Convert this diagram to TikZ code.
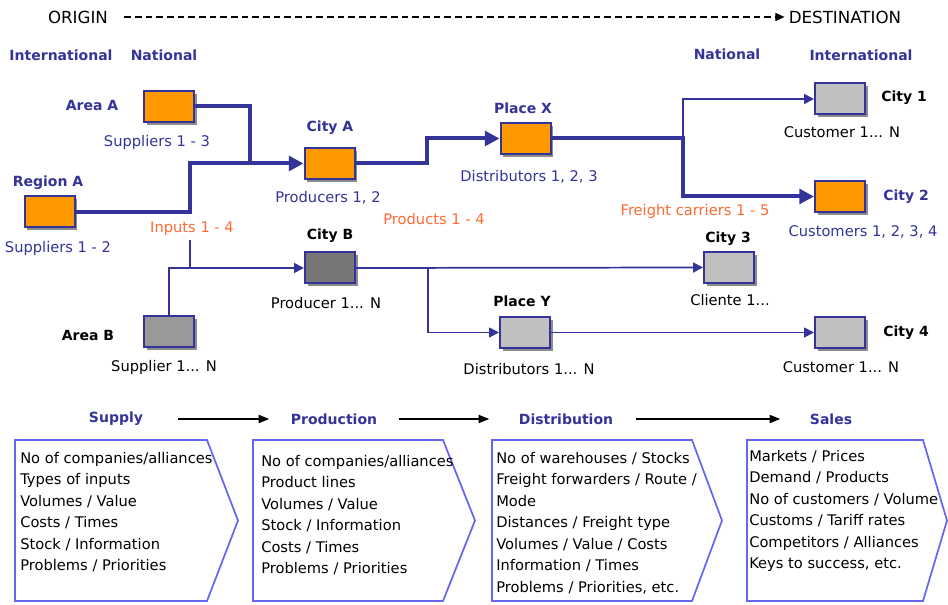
\documentclass[tikz,border=0pt]{standalone}
\usepackage{fontspec}
\setmainfont{DejaVu Sans}
\usepackage{xcolor}
\usepackage{tikz}
\usetikzlibrary{arrows.meta,shadows}
\definecolor{navy}{HTML}{333399}
\definecolor{boxorange}{HTML}{FF9900}
\definecolor{txtorange}{HTML}{FF6A33}
\definecolor{chevblue}{HTML}{6666F0}
\definecolor{lightgrey}{HTML}{C0C0C0}
\definecolor{midgrey}{HTML}{999999}
\definecolor{darkgrey}{HTML}{777777}

\begin{document}
\begin{tikzpicture}[x=0.75pt,y=-0.75pt,
site/.style={draw=navy,line width=1.5pt,minimum width=37.5pt,minimum height=23.25pt,inner sep=0pt,
  drop shadow={shadow xshift=2pt,shadow yshift=-2pt,fill=black,opacity=.45}},
tag/.style={inner sep=0pt,font=\fontsize{10.5pt}{12pt}\selectfont\bfseries},
lbl/.style={inner sep=0pt,font=\fontsize{11pt}{13pt}\selectfont},
list/.style={anchor=north west,align=left,inner sep=0pt,font=\fontsize{11pt}{16.1pt}\selectfont},
heavy/.style={navy,line width=3pt},
heavyarr/.style={heavy,-{Triangle[length=11pt,width=11pt]}},
light/.style={navy,line width=1.3pt},
lightarr/.style={light,-{Triangle[length=7.5pt,width=7.5pt]}},
route/.style={dash pattern=on 5pt off 3pt,line width=1.1pt,-{Triangle[length=7pt,width=6pt]},shorten <=12pt,shorten >=3pt},
stage/.style={line width=1.3pt,-{Triangle[length=8pt,width=6pt]}},
chev/.style={draw=chevblue,line width=1.3pt,fill=white}
]
\useasboundingbox (0,0) rectangle (948,605);

\node[lbl,font=\fontsize{12.5pt}{14pt}\selectfont] (origin) at (78,17) {ORIGIN};
\node[lbl,font=\fontsize{12.5pt}{14pt}\selectfont] (dest) at (845,17) {DESTINATION};
\draw[route] (origin) -- (dest);

\node[tag,navy] (intlL) at (61,55) {International};
\node[tag,navy] (natL) at (164,55) {National};
\node[tag,navy] (natR) at (727,54) {National};
\node[tag,navy] (intlR) at (861,55) {International};

\node[site,fill=boxorange] (areaA) at (169,106.5) {};
\node[site,fill=boxorange] (regionA) at (49.5,212) {};
\node[site,fill=boxorange] (cityA) at (329.5,163.5) {};
\node[site,fill=boxorange] (placeX) at (525.5,138.5) {};
\node[site,fill=lightgrey] (city1) at (840,99) {};
\node[site,fill=boxorange] (city2) at (840,196.5) {};
\node[site,fill=lightgrey] (city3) at (729,267.5) {};
\node[site,fill=darkgrey] (cityB) at (330,268) {};
\node[site,fill=midgrey] (areaB) at (169,332) {};
\node[site,fill=lightgrey] (placeY) at (525,332.5) {};
\node[site,fill=lightgrey] (city4) at (840,332.5) {};

\node[tag,navy] (areaAtag) at (92,106) {Area A};
\node[tag,navy] (regionAtag) at (48,183) {Region A};
\node[tag,navy] (cityAtag) at (330,128) {City A};
\node[tag,navy] (placeXtag) at (523,108) {Place X};
\node[tag] (city1tag) at (904,98) {City 1};
\node[tag,navy] (city2tag) at (906,197) {City 2};
\node[tag] (city3tag) at (728,239) {City 3};
\node[tag] (cityBtag) at (330,236) {City B};
\node[tag] (areaBtag) at (88,335) {Area B};
\node[tag] (placeYtag) at (522,301) {Place Y};
\node[tag] (city4tag) at (906,333) {City 4};

\node[lbl,navy] (areaAcap) at (157,142) {Suppliers 1 - 3};
\node[lbl,navy] (regionAcap) at (58,248) {Suppliers 1 - 2};
\node[lbl,navy] (cityAcap) at (328,198) {Producers 1, 2};
\node[lbl,navy] (placeXcap) at (529,177) {Distributors 1, 2, 3};
\node[lbl] (city1cap) at (842,132) {Customer 1... N};
\node[lbl,navy] (city2cap) at (863,232) {Customers 1, 2, 3, 4};
\node[lbl] (city3cap) at (730,300) {Cliente 1...};
\node[lbl] (cityBcap) at (326,303) {Producer 1... N};
\node[lbl] (areaBcap) at (164,367) {Supplier 1... N};
\node[lbl] (placeYcap) at (529,369) {Distributors 1... N};
\node[lbl] (city4cap) at (841,367) {Customer 1... N};

\node[lbl,txtorange] (inputs) at (192,229) {Inputs 1 - 4};
\node[lbl,txtorange] (products) at (434,219) {Products 1 - 4};
\node[lbl,txtorange] (carriers) at (695,211) {Freight carriers 1 - 5};

\coordinate (jR) at (190,163.5);
\coordinate (jA) at (250,163.5);
\coordinate (kX) at (427,138.5);
\coordinate (fork) at (683,138.5);
\coordinate (kB) at (428,268);

\draw[heavy] (areaA.east) -| (jA);
\draw[heavyarr] (regionA.east) -| (jR) -- (cityA.west);
\draw[heavyarr] (cityA.east) -| (kX) -- (placeX.west);
\draw[heavyarr] (placeX.east) -- (fork) |- (city2.west);
\draw[lightarr] (fork) |- (city1.west);

\draw[lightarr] (areaB.north) |- (cityB.west);
\draw[light] (inputs.south) ++(-2,4) -- (190,268);
\draw[lightarr] (cityB.east) -- (city3.west);
\draw[lightarr] (kB) |- (placeY.west);
\draw[lightarr] (placeY.east) -- (city4.west);

\node[tag,navy] (supply) at (116,419) {Supply};
\node[tag,navy] (production) at (334,419) {Production};
\node[tag,navy] (distribution) at (566,419) {Distribution};
\node[tag,navy] (sales) at (831,419) {Sales};
\draw[stage,shorten <=26pt,shorten >=16pt] (supply) -- (production);
\draw[stage,shorten <=16pt,shorten >=22pt] (production) -- (distribution);
\draw[stage,shorten <=17pt,shorten >=22pt] (distribution) -- (sales);

\foreach \l/\r/\t in {15/207/238,253/443/475,492/692/722,747/923/947}
  \draw[chev] (\l,440) -- (\r,440) -- (\t,520.5) -- (\r,601) -- (\l,601) -- cycle;

\node[list] (supplyList) at (20,452) {No of companies/alliances\\Types of inputs\\Volumes / Value\\Costs / Times\\Stock / Information\\Problems / Priorities};
\node[list] (productionList) at (261,455) {No of companies/alliances\\Product lines\\Volumes / Value\\Stock / Information\\Costs / Times\\Problems / Priorities};
\node[list] (distributionList) at (496,452) {No of warehouses / Stocks\\Freight forwarders / Route /\\Mode\\Distances / Freight type\\Volumes / Value / Costs\\Information / Times\\Problems / Priorities, etc.};
\node[list] (salesList) at (749,450) {Markets / Prices\\Demand / Products\\No of customers / Volume\\Customs / Tariff rates\\Competitors / Alliances\\Keys to success, etc.};
\end{tikzpicture}
\end{document}
